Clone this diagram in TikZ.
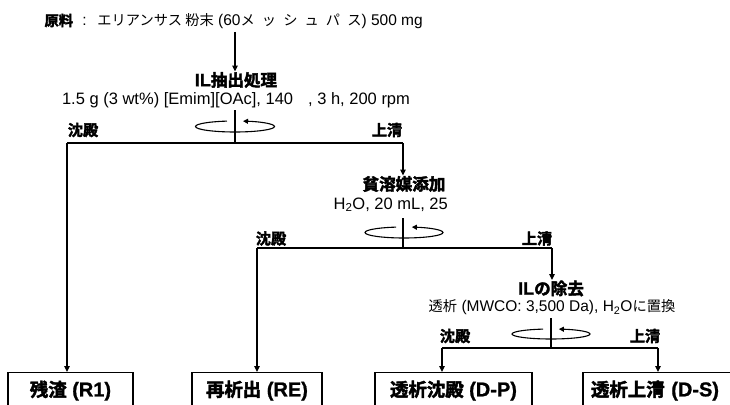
\documentclass[tikz,border=0pt]{standalone}
\usepackage{fontspec}
\setmainfont{Liberation Sans}[BoldFeatures={FakeBold=1}]
\newfontfamily\jp{Noto Sans CJK JP}[Scale=0.92,BoldFont={Noto Sans CJK JP Bold},BoldFeatures={FakeBold=2.5}]
\usetikzlibrary{arrows.meta}
\newcommand\jt[1]{{\jp #1}}
\begin{document}
\begin{tikzpicture}[x=1pt,y=-1pt,
  line width=1.2pt,
  arr/.style={-{Triangle[length=6pt,width=5.5pt]}},
  rot/.style={line width=1.1pt,-{Triangle[length=5pt,width=5pt]}},
  txt/.style={inner sep=0pt,font=\fontsize{15.5}{18}\selectfont},
  bigtxt/.style={inner sep=0pt,font=\fontsize{16.5}{18}\selectfont},
  head/.style={inner sep=0pt,font=\fontsize{18}{20}\selectfont\bfseries},
  lab/.style={inner sep=0pt,font=\fontsize{16.5}{19}\selectfont\bfseries},
  box/.style={draw,line width=1.2pt,minimum height=36pt,inner sep=0pt,anchor=north,font=\fontsize{20}{22}\selectfont\bfseries}
]
\useasboundingbox (0,0) rectangle (730,404);
\clip (0,0) rectangle (730,404);

% top
\node[txt,anchor=west] (src) at (44,21.5) {\textbf{\jp 原料}\hspace{5pt} : \hspace{5pt}\jt{エリアンサス 粉末} (60\jt{\makebox[121pt][s]{メ\hfill ッ\hfill シ\hfill ュ\hfill パ\hfill ス}}) 500 mg};
\coordinate (a0) at (235,32);
\node[head] (h1) at (236,80) {IL\jt{抽出処理}};
\node[bigtxt] (p1) at (236,100) {1.5 g (3 wt\%) [Emim][OAc], 140\hspace{15pt}, 3 h, 200 rpm};
\draw[arr] (a0) -- (a0 |- h1.north);
\coordinate (s1) at (235,110);
\coordinate (j1) at (235,143);
\coordinate (j1l) at (67,143);
\coordinate (j1r) at (403,143);
\draw (s1) -- (j1);
\draw[rot] (235,126.5) ++(101.7:39.5pt and 5.5pt) arc[start angle=101.7,end angle=438.3,x radius=39.5pt,y radius=5.5pt];
\node[lab] (l1a) at (83,130) {\jt{沈殿}};
\node[lab] (l1b) at (387,130) {\jt{上清}};
\draw (j1l) -- (j1r);

% level 2
\node[head] (h2) at (404,184) {\jt{貧溶媒添加}};
\draw[arr] (j1r) -- (j1r |- h2.north);
\node[bigtxt,anchor=base west] (p2) at (333,209) {H\textsubscript{2}O, 20 mL, 25};
\coordinate (s2) at (403,218);
\coordinate (j2) at (403,248);
\coordinate (j2l) at (257,248);
\coordinate (j2r) at (552,248);
\draw (s2) -- (j2);
\draw[rot] (404,232.5) ++(101.7:39pt and 5.5pt) arc[start angle=101.7,end angle=438.3,x radius=39pt,y radius=5.5pt];
\node[lab] (l2a) at (271,238.5) {\jt{沈殿}};
\node[lab] (l2b) at (537,238.5) {\jt{上清}};
\draw (j2l) -- (j2r);

% level 3
\node[head] (h3) at (551,288.5) {IL\jt{の除去}};
\draw[arr] (j2r) -- (j2r |- h3.north);
\node[txt] (p3) at (552,307) {\jt{透析} (MWCO: 3,500 Da), H\textsubscript{2}O\jt{に置換}};
\coordinate (s3) at (551,318);
\coordinate (j3) at (551,348);
\coordinate (j3l) at (442,348);
\coordinate (j3r) at (658,348);
\draw (s3) -- (j3);
\draw[rot] (551,334) ++(101.7:39pt and 5pt) arc[start angle=101.7,end angle=438.3,x radius=39pt,y radius=5pt];
\node[lab] (l3a) at (455,336) {\jt{沈殿}};
\node[lab] (l3b) at (645,336) {\jt{上清}};
\draw (j3l) -- (j3r);

% boxes
\node[box,minimum width=125pt] (r1) at (70.5,372) {\jt{残渣} (R1)};
\node[box,minimum width=130pt] (re) at (257,372) {\jt{再析出} (RE)};
\node[box,minimum width=157pt] (dp) at (453.5,372) {\jt{透析沈殿} (D-P)};
\node[box,minimum width=160pt,text width=144pt,align=left] (ds) at (663,372) {\hspace{0pt}\jt{透析上清} (D-S)};
\draw[arr] (j1l) -- (j1l |- r1.north);
\draw[arr] (j2l) -- (j2l |- re.north);
\draw[arr] (j3l) -- (j3l |- dp.north);
\draw[arr] (j3r) -- (j3r |- ds.north);
\end{tikzpicture}
\end{document}
